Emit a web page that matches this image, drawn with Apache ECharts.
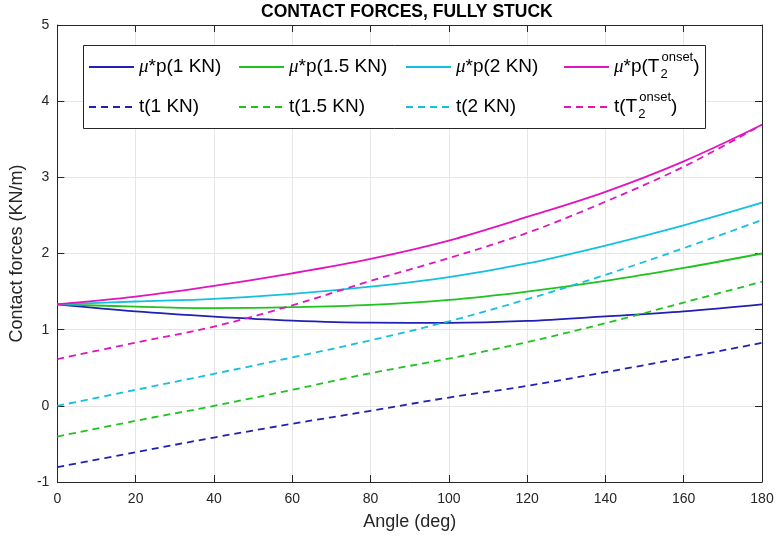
<!DOCTYPE html>
<html><head><meta charset="utf-8">
<script src="https://cdn.jsdelivr.net/npm/echarts@6/dist/echarts.min.js"></script>
<style>html,body{margin:0;padding:0;background:#fff}#c{width:777px;height:540px}</style>
</head><body><div id="c"></div>
<script>
// ---- data ----
const angles = [0, 20, 40, 60, 80, 100, 120, 140, 160, 180];
const muP_1KN   = [1.333, 1.240, 1.172, 1.120, 1.093, 1.090, 1.115, 1.175, 1.240, 1.333];
const muP_15KN  = [1.333, 1.303, 1.283, 1.295, 1.325, 1.390, 1.500, 1.640, 1.810, 2.000];
const muP_2KN   = [1.333, 1.370, 1.405, 1.470, 1.565, 1.690, 1.870, 2.105, 2.370, 2.667];
const muP_onset = [1.333, 1.434, 1.575, 1.740, 1.930, 2.170, 2.480, 2.810, 3.210, 3.690];
const t_1KN     = [-0.805, -0.610, -0.416, -0.236, -0.066, 0.109, 0.262, 0.442, 0.630, 0.827];
const t_15KN    = [-0.403, -0.197, 0.000, 0.210, 0.429, 0.620, 0.836, 1.085, 1.356, 1.630];
const t_2KN     = [0.000, 0.210, 0.420, 0.635, 0.860, 1.110, 1.400, 1.720, 2.070, 2.440];
const t_onset   = [0.613, 0.830, 1.040, 1.320, 1.640, 1.940, 2.270, 2.680, 3.140, 3.690];
const seriesNames = ['μ*p(1 KN)', 'μ*p(1.5 KN)', 'μ*p(2 KN)', 'μ*p(T2onset)',
                     't(1 KN)', 't(1.5 KN)', 't(2 KN)', 't(T2onset)'];
const xTickMin = 0, xTickMax = 180, xTickStep = 20;
const yTickMin = -1, yTickMax = 5, yTickStep = 1;
const titleText = 'CONTACT FORCES, FULLY STUCK';
const xLabel = 'Angle (deg)';
const yLabel = 'Contact forces (KN/m)';

// ---- styling ----
const colors = ['#2020b4', '#1ec31e', '#14c0e0', '#e014c0'];
const values = [muP_1KN, muP_15KN, muP_2KN, muP_onset, t_1KN, t_15KN, t_2KN, t_onset];
const FONT = '"Liberation Sans", Arial, Helvetica, sans-serif';
const AX = '#262626';

const series = values.map((v, i) => ({
  name: seriesNames[i],
  type: 'line',
  data: angles.map((a, j) => [a, v[j]]),
  smooth: 0.35,
  symbol: 'none',
  xAxisIndex: 0, yAxisIndex: 0,
  lineStyle: { color: colors[i % 4], width: 1.8, type: i < 4 ? 'solid' : [7, 5] },
  itemStyle: { color: colors[i % 4] },
  z: 2
}));

const colX = [88, 238, 405, 563];
const rowC = [67, 107];
const rich = {
  mu: { fontFamily: '"Liberation Serif", serif', fontStyle: 'italic', fontSize: 19, lineHeight: 36 },
  sub: { fontSize: 13, width: 0, verticalAlign: 'bottom', lineHeight: 20, padding: [0, 0, 4, 1] },
  sup: { fontSize: 13, verticalAlign: 'top', lineHeight: 20, padding: [2, 0, 0, 1] }
};
function fmt(name) {
  let s = name.replace('μ', '{mu|μ}');
  s = s.replace('T2onset', 'T{sub|2}{sup|onset}');
  return s;
}
const legends = seriesNames.map((n, i) => ({
  data: [n],
  left: colX[i % 4],
  top: rowC[i < 4 ? 0 : 1] - 18,
  orient: 'horizontal',
  padding: 0,
  itemWidth: 45,
  itemHeight: 14,
  itemGap: 0,
  z: 10,
  selectedMode: false,
  itemStyle: { opacity: 0 },
  formatter: fmt,
  textStyle: { fontSize: 19, fontFamily: FONT, color: '#000', lineHeight: 36, rich: rich }
}));

const chart = echarts.init(document.getElementById('c'), null, { renderer: 'canvas' });
chart.setOption({
  backgroundColor: '#fff',
  animation: false,
  title: { text: titleText, left: 261, top: 3, padding: 0,
    textStyle: { fontSize: 17.5, fontWeight: 'bold', fontFamily: FONT, color: '#000' } },
  grid: { left: 56, right: 15, top: 25, bottom: 58 },
  legend: legends,
  graphic: [{ type: 'rect', z: 3, shape: { x: 83.5, y: 45.5, width: 622, height: 83 },
    style: { fill: '#fff', stroke: AX, lineWidth: 1 } }],
  xAxis: [{
    type: 'value', min: xTickMin, max: xTickMax, interval: xTickStep, position: 'bottom',
    name: xLabel, nameLocation: 'middle', nameGap: 31,
    nameTextStyle: { fontSize: 18, fontFamily: FONT, color: AX },
    axisLine: { show: true, onZero: false, lineStyle: { color: AX, width: 1 } },
    axisTick: { show: true, inside: true, length: 7, lineStyle: { color: AX } },
    axisLabel: { fontSize: 14, fontFamily: FONT, color: AX, margin: 10 },
    splitLine: { show: true, lineStyle: { color: '#e6e6e6', width: 1 } }
  }, {
    type: 'value', min: xTickMin, max: xTickMax, interval: xTickStep, position: 'top',
    axisLine: { show: true, onZero: false, lineStyle: { color: AX, width: 1 } },
    axisTick: { show: true, inside: true, length: 7, lineStyle: { color: AX } },
    axisLabel: { show: false }, splitLine: { show: false }
  }],
  yAxis: [{
    type: 'value', min: yTickMin, max: yTickMax, interval: yTickStep, position: 'left',
    name: yLabel, nameLocation: 'middle', nameGap: 29,
    nameTextStyle: { fontSize: 18, fontFamily: FONT, color: AX },
    axisLine: { show: true, onZero: false, lineStyle: { color: AX, width: 1 } },
    axisTick: { show: true, inside: true, length: 7, lineStyle: { color: AX } },
    axisLabel: { fontSize: 14, fontFamily: FONT, color: AX, margin: 8 },
    splitLine: { show: true, lineStyle: { color: '#e6e6e6', width: 1 } }
  }, {
    type: 'value', min: yTickMin, max: yTickMax, interval: yTickStep, position: 'right',
    axisLine: { show: true, onZero: false, lineStyle: { color: AX, width: 1 } },
    axisTick: { show: true, inside: true, length: 7, lineStyle: { color: AX } },
    axisLabel: { show: false }, splitLine: { show: false }
  }],
  series: series
});
</script></body></html>
